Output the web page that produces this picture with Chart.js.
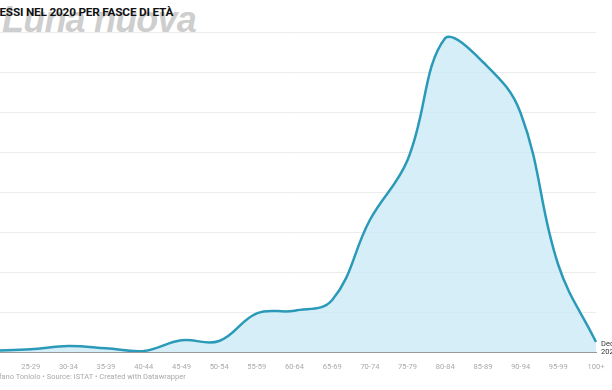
<!DOCTYPE html>
<html>
<head>
<meta charset="utf-8">
<script src="https://cdn.jsdelivr.net/npm/chart.js@4"></script>
<style>
 html,body{margin:0;padding:0;background:#fff;}
 #wrap{position:relative;width:612px;height:390px;overflow:hidden;font-family:Roboto,sans-serif;}
 #mark{position:absolute;left:2px;top:-1px;font-family:"Liberation Sans Narrow","Liberation Sans",sans-serif;font-weight:bold;font-style:italic;font-size:36px;color:rgba(185,185,185,0.7);letter-spacing:-0.8px;}
 #title{position:absolute;left:-22px;top:5px;font-weight:bold;font-size:11.8px;color:#111;letter-spacing:-0.2px;}
 #foot{position:absolute;left:-12px;top:372px;font-size:7.5px;color:#aaa;}
 #box{position:absolute;left:-20px;top:0;width:640px;height:390px;}
</style>
</head>
<body>
<div id="wrap">
 <div id="mark">Luna nuova</div>
 <div id="title">DECESSI NEL 2020 PER FASCE DI ETÀ</div>
 <div id="box"><canvas id="chart" width="640" height="390"></canvas></div>
 <div id="foot">Stefano Toniolo • Source: ISTAT • Created with Datawrapper</div>
</div>
<script>
const fasce = ["20-24","25-29","30-34","35-39","40-44","45-49","50-54","55-59","60-64","65-69","70-74","75-79","80-84","85-89","90-94","95-99","100+"];
const decessi = [600,1350,3000,1850,500,5850,5500,19350,20650,26000,66000,96000,157000,145000,119500,43500,5000];
const serieNome = ["Decessi","2020"];

const endLabel = {
 id:'endLabel',
 afterDatasetsDraw(c){
   const meta = c.getDatasetMeta(0);
   const p = meta.data[meta.data.length-1];
   const ctx = c.ctx;
   ctx.save();
   ctx.fillStyle = '#333';
   ctx.font = '7.5px Roboto';
   ctx.textBaseline = 'middle';
   ctx.fillText(serieNome[0], p.x+5, p.y+2);
   ctx.fillText(serieNome[1], p.x+5, p.y+10);
   ctx.restore();
 }
};

new Chart(document.getElementById("chart"),{
 type:'line',
 data:{
   labels:fasce,
   datasets:[{
     label:'Decessi 2020',
     data:decessi,
     borderColor:'#2b9ab8',
     backgroundColor:'rgba(200,232,246,0.75)',
     borderWidth:2.5,
     fill:'origin',
     tension:0.4,
     pointRadius:0
   }]
 },
 options:{
   responsive:false,
   animation:false,
   layout:{padding:{left:13,right:24,top:32,bottom:15}},
   plugins:{legend:{display:false},tooltip:{enabled:false}},
   scales:{
     x:{
       offset:false,
       grid:{display:false},
       border:{color:'#999',width:1},
       ticks:{color:'#aaa',font:{family:'Roboto',size:7.5},padding:3,maxRotation:0,autoSkip:false,
         callback:(v,i)=> i===0 ? '' : fasce[i]}
     },
     y:{
       min:0,max:160000,
       ticks:{display:false,stepSize:20000},
       border:{display:false},
       grid:{color:'#ececec',drawTicks:false}
     }
   }
 }
 ,plugins:[endLabel]
});
</script>
</body>
</html>
